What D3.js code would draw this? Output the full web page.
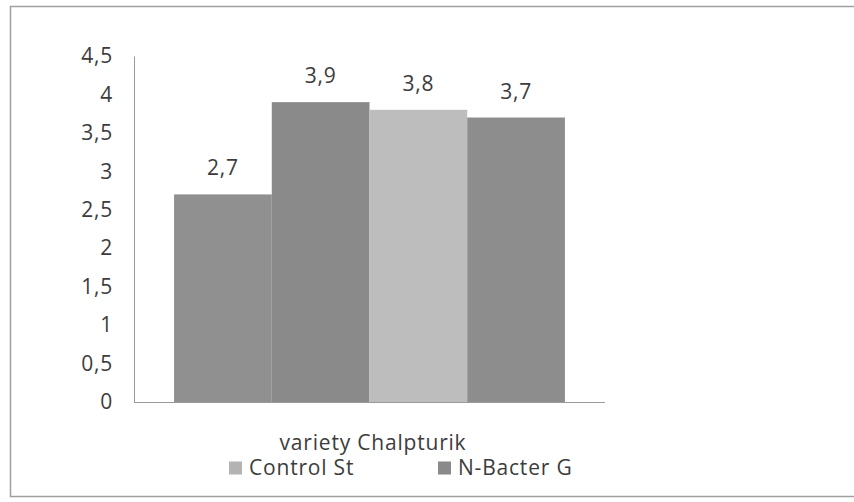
<!DOCTYPE html>
<html>
<head>
<meta charset="utf-8">
<script src="https://cdn.jsdelivr.net/npm/d3@7"></script>
<style>
  body { margin: 0; background: #fff; }
  svg text { font-family: "Open Sans", Lato, sans-serif; fill: #3c3c3c; letter-spacing: 0.8px; }
</style>
</head>
<body>
<div id="viz"></div>
<script>
// values
var bars = ["b1", "b2", "b3", "b4"];
var values = [2.7, 3.9, 3.8, 3.7];
var barColors = ["#909090", "#8a8a8a", "#bdbdbd", "#8d8d8d"];
var yTicks = [0, 0.5, 1, 1.5, 2, 2.5, 3, 3.5, 4, 4.5];
var categoryLabel = "variety Chalpturik";
var legendNames = ["Control St", "N-Bacter G"];
var legendColors = ["#b3b3b3", "#8a8a8a"];

var svg = d3.select("#viz").append("svg")
    .attr("width", 854)
    .attr("height", 502);

// outer frame of the chart
svg.append("rect")
    .attr("x", 10.5).attr("y", 6.5)
    .attr("width", 860).attr("height", 490)
    .style("fill", "none")
    .style("stroke", "#a0a0a0")
    .style("stroke-width", 1.5);

var x = d3.scaleBand()
    .domain(bars)
    .range([134, 605])
    .paddingInner(0)
    .paddingOuter(0.41);

var y = d3.scaleLinear()
    .domain([0, 4.5])
    .range([402, 56]);

var comma = function(d) { return String(d).replace(".", ","); };

// bars
svg.selectAll("rect.bar")
    .data(values)
    .enter()
    .append("rect")
    .attr("class", "bar")
    .attr("x", function(d, i) { return x(bars[i]); })
    .attr("y", function(d) { return y(d); })
    .attr("width", x.bandwidth())
    .attr("height", function(d) { return y(0) - y(d); })
    .style("fill", function(d, i) { return barColors[i]; });

// value labels
svg.selectAll("text.val")
    .data(values)
    .enter()
    .append("text")
    .attr("class", "val")
    .attr("x", function(d, i) { return x(bars[i]) + x.bandwidth() / 2; })
    .attr("y", function(d) { return y(d) - 19; })
    .attr("text-anchor", "middle")
    .attr("font-size", "21px")
    .text(function(d) { return comma(d); });

// y axis
var yAxis = d3.axisLeft(y)
    .tickValues(yTicks)
    .tickSize(0)
    .tickPadding(21)
    .tickFormat(comma);

var gy = svg.append("g")
    .attr("transform", "translate(134,0)")
    .call(yAxis);
gy.select(".domain").style("stroke", "#9a9a9a");
gy.selectAll("text")
    .attr("font-size", "21px")
    .style("font-family", "'Open Sans', Lato, sans-serif")
    .style("fill", "#3c3c3c");

// x axis line
svg.append("line")
    .attr("x1", 134).attr("x2", 605)
    .attr("y1", y(0) + 0.5).attr("y2", y(0) + 0.5)
    .style("stroke", "#9a9a9a");

// category label
svg.append("text")
    .attr("x", 373)
    .attr("y", 450)
    .attr("text-anchor", "middle")
    .attr("font-size", "21px")
    .text(categoryLabel);

// legend
var legendX = [229, 438];
var lg = svg.selectAll("g.legend")
    .data(legendNames)
    .enter()
    .append("g")
    .attr("class", "legend")
    .attr("transform", function(d, i) { return "translate(" + legendX[i] + ",468)"; });

lg.append("rect")
    .attr("x", 0).attr("y", -6.5)
    .attr("width", 13).attr("height", 13)
    .style("fill", function(d, i) { return legendColors[i]; });

lg.append("text")
    .attr("x", 20)
    .attr("y", 7)
    .attr("font-size", "21px")
    .text(function(d) { return d; });
</script>
</body>
</html>
